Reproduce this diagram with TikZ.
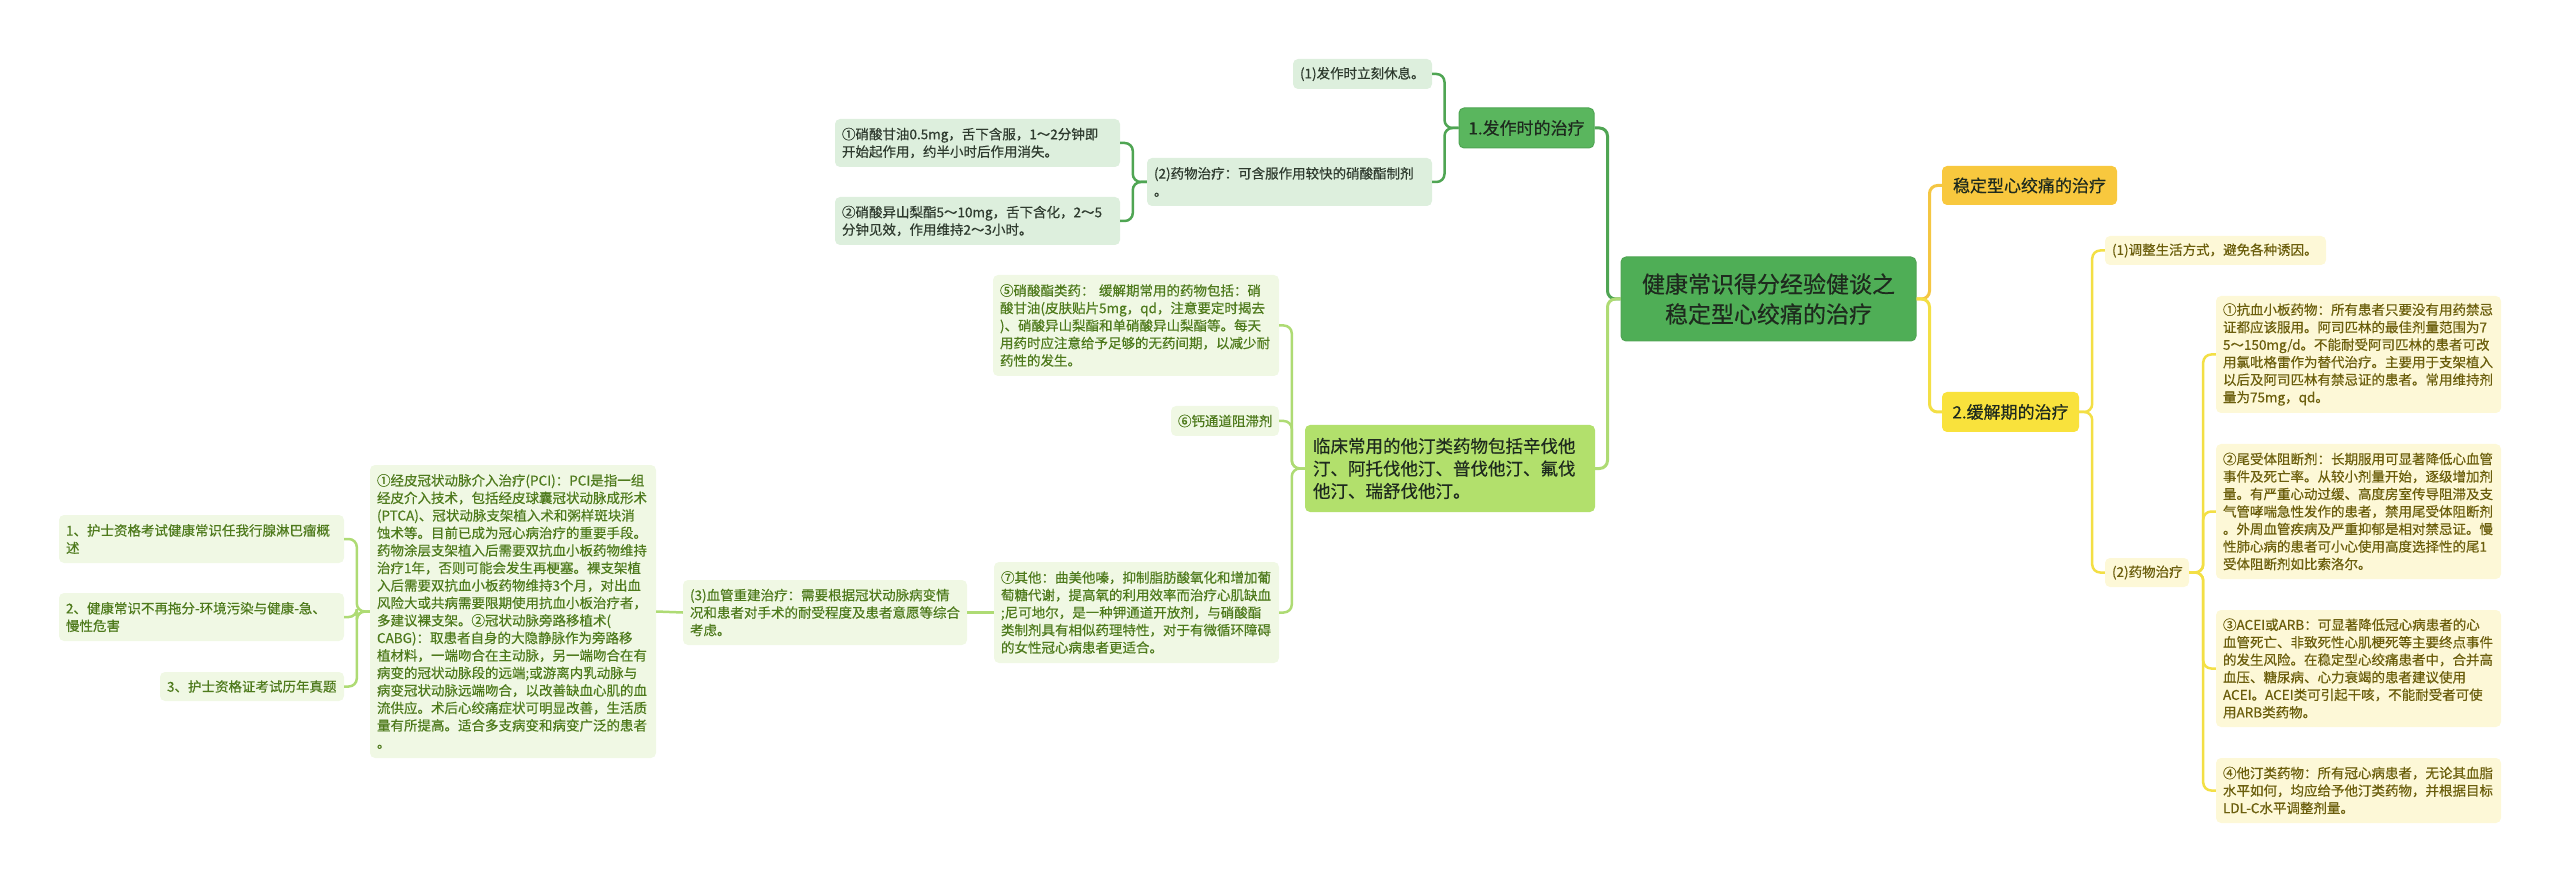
\documentclass[tikz,border=0pt]{standalone}
\usepackage{fontspec}
\setmainfont[RawFeature={embolden=0.4}]{Noto Sans CJK SC}
\definecolor{cmain}{HTML}{4FAE56}
\definecolor{cfa}{HTML}{5AB65E}
\definecolor{cfaleaf}{HTML}{DDEFDD}
\definecolor{clc}{HTML}{B2E06C}
\definecolor{clcleaf}{HTML}{F0F8E4}
\definecolor{clctext}{HTML}{4E7A1C}
\definecolor{cwd}{HTML}{F8C83E}
\definecolor{chj}{HTML}{F9E23C}
\definecolor{chjleaf}{HTML}{FDF8D7}
\definecolor{chjtext}{HTML}{6B5E0C}
\definecolor{ldark}{HTML}{4FA553}
\definecolor{llight}{HTML}{AEDB74}
\definecolor{lgold}{HTML}{F4C642}
\definecolor{lyellow}{HTML}{F3DF45}
\definecolor{tdark}{HTML}{1E2A1E}
\definecolor{tleaf}{HTML}{2E3A2E}
\tikzset{
  box/.style={rectangle, rounded corners=5pt, inner sep=0pt, align=left},
  small/.style={font=\fontsize{13.5pt}{17.5pt}\selectfont},
  mid/.style={font=\fontsize{17pt}{22.5pt}\selectfont},
  faleaf/.style={box, small, fill=cfaleaf, text=tleaf},
  lcleaf/.style={box, small, fill=clcleaf, text=clctext},
  hjleaf/.style={box, small, fill=chjleaf, text=chjtext},
  conn/.style={line width=2.5pt, rounded corners=8pt},
}
\begin{document}
\begin{tikzpicture}[x=1pt, y=-1pt]
\useasboundingbox (0,0) rectangle (2560,882);

% central
\node[box, fill=cmain, draw=ldark, line width=1pt, text=tdark, align=center, font=\fontsize{23pt}{30pt}\selectfont,
  minimum width=295pt, minimum height=84pt] (c) at (1768.5,299) {健康常识得分经验健谈之\\稳定型心绞痛的治疗};

% top-left branch
\node[box, mid, fill=cfa, draw=ldark, line width=1pt, text=tdark, align=center, minimum width=135pt, minimum height=40pt] (fa) at (1526.5,128) {1.发作时的治疗};
\node[faleaf, minimum width=139pt, minimum height=30pt, text width=125pt] (fa1) at (1362.5,74) {(1)发作时立刻休息。};
\node[faleaf, minimum width=285pt, minimum height=48pt, text width=271pt] (fa2) at (1289.5,182) {(2)药物治疗：可含服作用较快的硝酸酯制剂\\。};
\node[faleaf, minimum width=285pt, minimum height=48pt, text width=271pt] (fa21) at (977.5,143) {①硝酸甘油0.5mg，舌下含服，1～2分钟即\\开始起作用，约半小时后作用消失。};
\node[faleaf, minimum width=285pt, minimum height=48pt, text width=271pt] (fa22) at (977.5,221) {②硝酸异山梨酯5～10mg，舌下含化，2～5\\分钟见效，作用维持2～3小时。};

% lower-left branch
\node[box, fill=clc, text=tdark, font=\fontsize{17.5pt}{22.5pt}\selectfont,
  minimum width=290pt, minimum height=87pt, text width=274pt] (lc) at (1450,468.5) {临床常用的他汀类药物包括辛伐他\\汀、阿托伐他汀、普伐他汀、氟伐\\他汀、瑞舒伐他汀。};
\node[lcleaf, minimum width=286pt, minimum height=101pt, text width=272pt] (l5) at (1136,325.5) {⑤硝酸酯类药： 缓解期常用的药物包括：硝\\酸甘油(皮肤贴片5mg，qd，注意要定时揭去\\)、硝酸异山梨酯和单硝酸异山梨酯等。每天\\用药时应注意给予足够的无药间期，以减少耐\\药性的发生。};
\node[lcleaf, minimum width=108pt, minimum height=30pt, text width=94pt] (l6) at (1225,421) {⑥钙通道阻滞剂};
\node[lcleaf, minimum width=285pt, minimum height=101pt, text width=271pt] (l7) at (1136.5,612.5) {⑦其他：曲美他嗪，抑制脂肪酸氧化和增加葡\\萄糖代谢，提高氧的利用效率而治疗心肌缺血\\;尼可地尔，是一种钾通道开放剂，与硝酸酯\\类制剂具有相似药理特性，对于有微循环障碍\\的女性冠心病患者更适合。};
\node[lcleaf, minimum width=284pt, minimum height=65pt, text width=270pt] (l3) at (825,612.5) {(3)血管重建治疗：需要根据冠状动脉病变情\\况和患者对手术的耐受程度及患者意愿等综合\\考虑。};
\node[lcleaf, minimum width=286pt, minimum height=293pt, text width=272pt] (pci) at (513,611.5) {①经皮冠状动脉介入治疗(PCI)：PCI是指一组\\经皮介入技术，包括经皮球囊冠状动脉成形术\\(PTCA)、冠状动脉支架植入术和粥样斑块消\\蚀术等。目前已成为冠心病治疗的重要手段。\\药物涂层支架植入后需要双抗血小板药物维持\\治疗1年，否则可能会发生再梗塞。裸支架植\\入后需要双抗血小板药物维持3个月，对出血\\风险大或共病需要限期使用抗血小板治疗者，\\多建议裸支架。②冠状动脉旁路移植术(\\CABG)：取患者自身的大隐静脉作为旁路移\\植材料，一端吻合在主动脉，另一端吻合在有\\病变的冠状动脉段的远端;或游离内乳动脉与\\病变冠状动脉远端吻合，以改善缺血心肌的血\\流供应。术后心绞痛症状可明显改善，生活质\\量有所提高。适合多支病变和病变广泛的患者\\。};
\node[lcleaf, minimum width=285pt, minimum height=48pt, text width=271pt] (r1) at (201.5,539) {1、护士资格考试健康常识任我行腺淋巴瘤概\\述};
\node[lcleaf, minimum width=285pt, minimum height=48pt, text width=271pt] (r2) at (201.5,617) {2、健康常识不再拖分-环境污染与健康-急、\\慢性危害};
\node[lcleaf, minimum width=184pt, minimum height=29pt, text width=170pt] (r3) at (252,686.5) {3、护士资格证考试历年真题};

% right branches
\node[box, mid, fill=cwd, text=tdark, align=center, minimum width=175pt, minimum height=39pt] (wd) at (2029.5,185.5) {稳定型心绞痛的治疗};
\node[box, mid, fill=chj, text=tdark, align=center, minimum width=137pt, minimum height=40pt] (hj) at (2010.5,412) {2.缓解期的治疗};
\node[hjleaf, minimum width=221pt, minimum height=29pt, text width=207pt] (hj1) at (2215.5,250.5) {(1)调整生活方式，避免各种诱因。};
\node[hjleaf, minimum width=84pt, minimum height=29pt, text width=70pt] (hj2) at (2147,572.5) {(2)药物治疗};
\node[hjleaf, minimum width=285pt, minimum height=117pt, text width=271pt] (d1) at (2358.5,354.5) {①抗血小板药物：所有患者只要没有用药禁忌\\证都应该服用。阿司匹林的最佳剂量范围为7\\5～150mg/d。不能耐受阿司匹林的患者可改\\用氯吡格雷作为替代治疗。主要用于支架植入\\以后及阿司匹林有禁忌证的患者。常用维持剂\\量为75mg，qd。};
\node[hjleaf, minimum width=285pt, minimum height=135pt, text width=271pt] (d2) at (2358.5,511.5) {②尾受体阻断剂：长期服用可显著降低心血管\\事件及死亡率。从较小剂量开始，逐级增加剂\\量。有严重心动过缓、高度房室传导阻滞及支\\气管哮喘急性发作的患者，禁用尾受体阻断剂\\。外周血管疾病及严重抑郁是相对禁忌证。慢\\性肺心病的患者可小心使用高度选择性的尾1\\受体阻断剂如比索洛尔。};
\node[hjleaf, minimum width=285pt, minimum height=117pt, text width=271pt] (d3) at (2358.5,668.5) {③ACEI或ARB：可显著降低冠心病患者的心\\血管死亡、非致死性心肌梗死等主要终点事件\\的发生风险。在稳定型心绞痛患者中，合并高\\血压、糖尿病、心力衰竭的患者建议使用\\ACEI。ACEI类可引起干咳，不能耐受者可使\\用ARB类药物。};
\node[hjleaf, minimum width=285pt, minimum height=65pt, text width=271pt] (d4) at (2358.5,790.5) {④他汀类药物：所有冠心病患者，无论其血脂\\水平如何，均应给予他汀类药物，并根据目标\\LDL-C水平调整剂量。};

% connectors
\draw[conn, line width=3pt, ldark] (c.west) -- ++(-13,0) |- (fa.east);
\draw[conn, line width=3pt, llight] (c.west) -- ++(-13,0) |- (lc.east);
\draw[conn, ldark] (fa.west) -- ++(-14,0) |- (fa1.east);
\draw[conn, ldark] (fa.west) -- ++(-14,0) |- (fa2.east);
\draw[conn, ldark] (fa2.west) -- ++(-14,0) |- (fa21.east);
\draw[conn, ldark] (fa2.west) -- ++(-14,0) |- (fa22.east);
\draw[conn, llight] (lc.west) -- ++(-13,0) |- (l5.east);
\draw[conn, llight] (lc.west) -- ++(-13,0) |- (l6.east);
\draw[conn, llight] (lc.west) -- ++(-13,0) |- (l7.east);
\draw[conn, llight] (l7.west) -- (l3.east);
\draw[conn, llight] (l3.west) -- (pci.east);
\draw[conn, llight] (pci.west) -- ++(-13,0) |- (r1.east);
\draw[conn, llight] (pci.west) -- ++(-13,0) |- (r2.east);
\draw[conn, llight] (pci.west) -- ++(-13,0) |- (r3.east);
\draw[conn, line width=3pt, lgold] (c.east) -- ++(13,0) |- (wd.west);
\draw[conn, line width=3pt, lyellow] (c.east) -- ++(13,0) |- (hj.west);
\draw[conn, lyellow] (hj.east) -- ++(13,0) |- (hj1.west);
\draw[conn, lyellow] (hj.east) -- ++(13,0) |- (hj2.west);
\draw[conn, lyellow] (hj2.east) -- ++(14,0) |- (d1.west);
\draw[conn, lyellow] (hj2.east) -- ++(14,0) |- (d2.west);
\draw[conn, lyellow] (hj2.east) -- ++(14,0) |- (d3.west);
\draw[conn, lyellow] (hj2.east) -- ++(14,0) |- (d4.west);
\end{tikzpicture}
\end{document}
